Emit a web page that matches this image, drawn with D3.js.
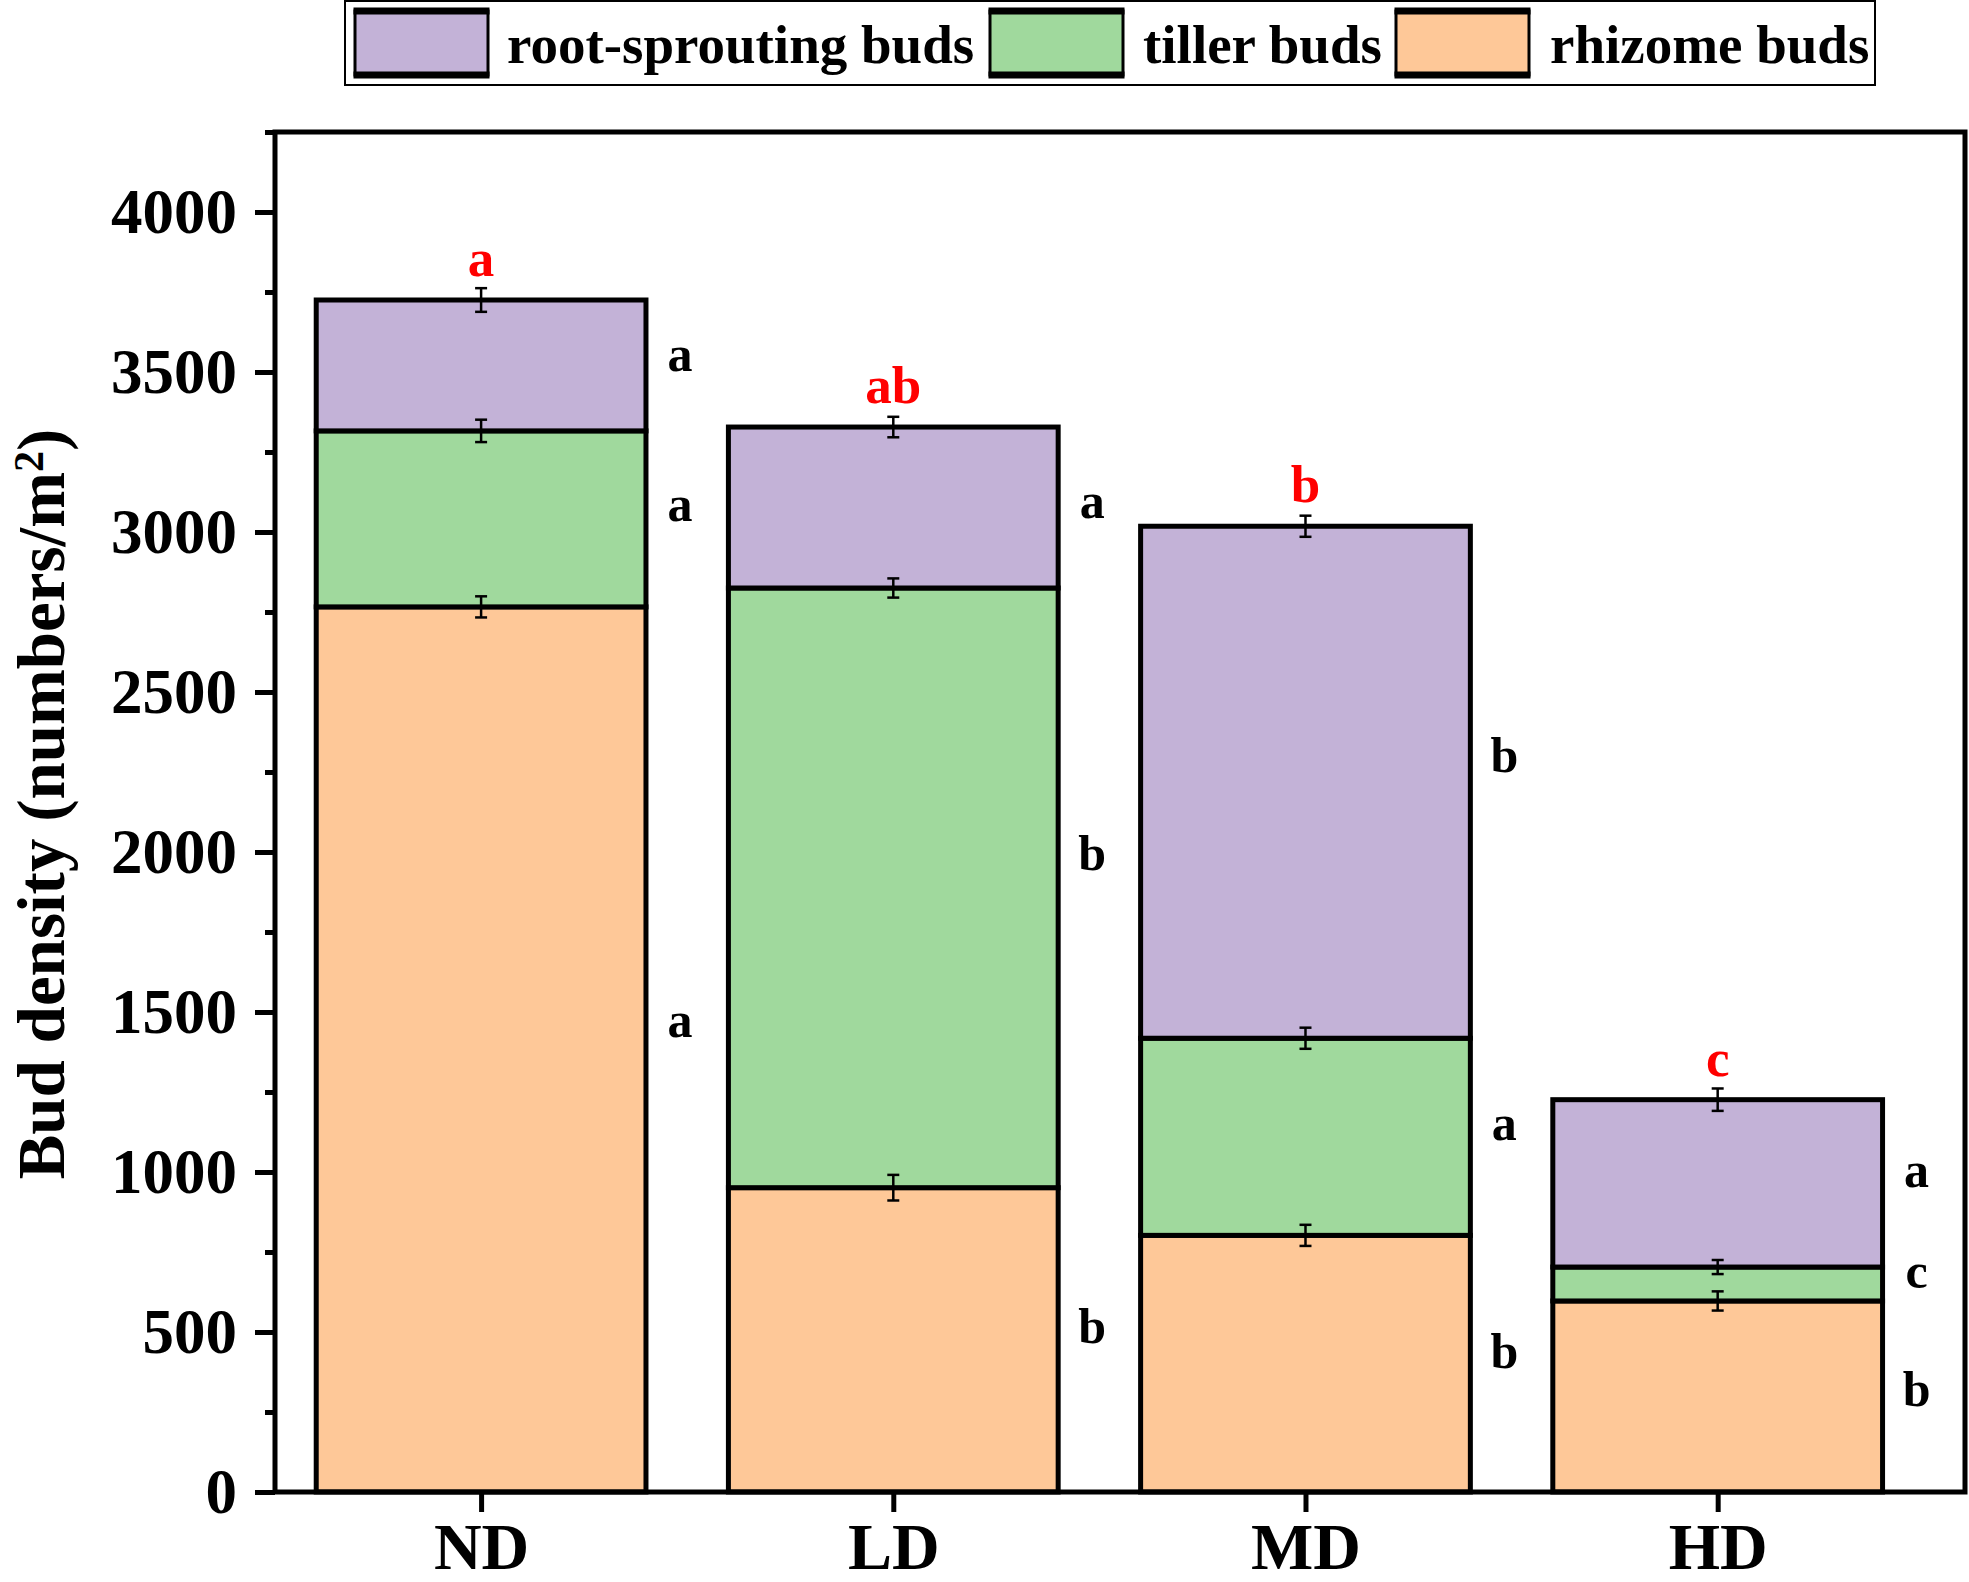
<!DOCTYPE html>
<html>
<head>
<meta charset="utf-8">
<script src="https://cdn.jsdelivr.net/npm/d3@7/dist/d3.min.js"></script>
<style>
  html, body { margin: 0; padding: 0; background: #fff; }
  svg { display: block; }
  text { font-family: "Liberation Serif", "Times New Roman", serif; font-weight: bold; }
</style>
</head>
<body>
<svg id="chart" width="1969" height="1582"></svg>
<script>
// ---------------- data ----------------
const categories = ["ND", "LD", "MD", "HD"];
const seriesNames = ["root-sprouting buds", "tiller buds", "rhizome buds"];
const rhizome = [2766, 951, 802, 597];
const tiller = [550, 1874, 616, 106];
const root = [409, 503, 1600, 523];
const rhizomeSE = [33, 40, 33, 30];
const tillerSE = [35, 30, 33, 22];
const rootSE = [37, 32, 33, 35];
const rhizomeLetters = ["a", "b", "b", "b"];
const tillerLetters = ["a", "b", "a", "c"];
const rootLetters = ["a", "a", "b", "a"];
const totalLetters = ["a", "ab", "b", "c"];
// value at which each significance letter is placed
const rhizomeLetterAt = [1458, 503, 424, 306];
const tillerLetterAt = [3073, 1980, 1139, 676];
const rootLetterAt = [3540, 3081, 2287, 990];
const yTicks = [0, 500, 1000, 1500, 2000, 2500, 3000, 3500, 4000];
const yMinorTicks = [250, 750, 1250, 1750, 2250, 2750, 3250, 3750, 4250];

// ---------------- layout ----------------
const colors = { root: "#C3B2D7", tiller: "#A0D99D", rhizome: "#FEC898" };
const L = 275, R = 1965, T = 132, B = 1492;
const svg = d3.select("#chart");

const y = d3.scaleLinear().domain([0, 4250]).range([B, T]);
const x = d3.scaleLinear().domain([0.5, 4.6]).range([L, R]);
const barW = x(1.8) - x(1.0);

// build stacked rows
const rows = categories.map((c, i) => ({
  cat: c, i: i,
  rhizome: rhizome[i], tiller: tiller[i], root: root[i]
}));
const stackGen = d3.stack().keys(["rhizome", "tiller", "root"]);
const stacked = stackGen(rows);
const seMap = { rhizome: rhizomeSE, tiller: tillerSE, root: rootSE };
const letterMap = { rhizome: rhizomeLetters, tiller: tillerLetters, root: rootLetters };
const letterAtMap = { rhizome: rhizomeLetterAt, tiller: tillerLetterAt, root: rootLetterAt };

// bars
stacked.forEach(layer => {
  svg.append("g").selectAll("rect").data(layer).join("rect")
    .attr("x", (d, i) => x(i + 1) - barW / 2)
    .attr("width", barW)
    .attr("y", d => y(d[1]))
    .attr("height", d => y(d[0]) - y(d[1]))
    .attr("fill", colors[layer.key])
    .attr("stroke", "#000")
    .attr("stroke-width", 5)
    .attr("stroke-linejoin", "miter");
});

// error bars
stacked.forEach(layer => {
  const g = svg.append("g").attr("stroke", "#000").attr("stroke-width", 2.5);
  layer.forEach((d, i) => {
    const cx = x(i + 1), se = seMap[layer.key][i];
    const y1 = y(d[1] + se), y2 = y(d[1] - se);
    g.append("line").attr("x1", cx).attr("x2", cx).attr("y1", y1).attr("y2", y2);
    g.append("line").attr("x1", cx - 6).attr("x2", cx + 6).attr("y1", y1).attr("y2", y1);
    g.append("line").attr("x1", cx - 6).attr("x2", cx + 6).attr("y1", y2).attr("y2", y2);
  });
});

// segment letters
stacked.forEach(layer => {
  svg.append("g").selectAll("text").data(layer).join("text")
    .attr("x", (d, i) => x(i + 1) + barW / 2 + 34)
    .attr("y", (d, i) => y(letterAtMap[layer.key][i]) + 12)
    .attr("text-anchor", "middle")
    .attr("font-size", 50)
    .attr("fill", "#000")
    .text((d, i) => letterMap[layer.key][i]);
});

// total letters (red)
const topLayer = stacked[stacked.length - 1];
svg.append("g").selectAll("text").data(topLayer).join("text")
  .attr("x", (d, i) => x(i + 1))
  .attr("y", d => y(d[1]) - 24)
  .attr("text-anchor", "middle")
  .attr("font-size", 53)
  .attr("fill", "#FF0000")
  .text((d, i) => totalLetters[i]);

// axes
const yAxis = d3.axisLeft(y).tickValues(yTicks).tickSize(20).tickPadding(18).tickFormat(d3.format("d"));
const yg = svg.append("g").attr("transform", `translate(${L},0)`).call(yAxis);
yg.select(".domain").remove();
yg.selectAll(".tick line").attr("stroke", "#000").attr("stroke-width", 5);
yg.selectAll(".tick text").attr("font-size", 63).attr("fill", "#000")
  .attr("font-family", "'Liberation Serif', serif").attr("font-weight", "bold");

const yMinor = d3.axisLeft(y).tickValues(yMinorTicks).tickSize(10).tickFormat("");
const ymg = svg.append("g").attr("transform", `translate(${L},0)`).call(yMinor);
ymg.select(".domain").remove();
ymg.selectAll(".tick line").attr("stroke", "#000").attr("stroke-width", 5);

const xAxis = d3.axisBottom(x).tickValues([1, 2, 3, 4]).tickSize(20).tickPadding(10)
  .tickFormat(d => categories[d - 1]);
const xg = svg.append("g").attr("transform", `translate(0,${B})`).call(xAxis);
xg.select(".domain").remove();
xg.selectAll(".tick line").attr("stroke", "#000").attr("stroke-width", 5);
xg.selectAll(".tick text").attr("font-size", 66).attr("fill", "#000")
  .attr("font-family", "'Liberation Serif', serif").attr("font-weight", "bold");

// frame
svg.append("rect").attr("x", L).attr("y", T).attr("width", R - L).attr("height", B - T)
  .attr("fill", "none").attr("stroke", "#000").attr("stroke-width", 5);

// y title
const title = svg.append("text")
  .attr("transform", `translate(64,804) rotate(-90)`)
  .attr("text-anchor", "middle")
  .attr("font-size", 67)
  .attr("fill", "#000");
title.append("tspan").text("Bud density (numbers/m");
title.append("tspan").attr("dy", -21).attr("font-size", 42).text("2");
title.append("tspan").attr("dy", 21).text(")");

// legend
const lg = svg.append("g");
lg.append("rect").attr("x", 345).attr("y", 1).attr("width", 1530).attr("height", 84)
  .attr("fill", "#fff").attr("stroke", "#000").attr("stroke-width", 2);
const legendItems = [
  { name: seriesNames[0], key: "root", sx: 355, tx: 507 },
  { name: seriesNames[1], key: "tiller", sx: 990, tx: 1143 },
  { name: seriesNames[2], key: "rhizome", sx: 1396, tx: 1550 }
];
legendItems.forEach(it => {
  lg.append("rect").attr("x", it.sx).attr("y", 11).attr("width", 133).attr("height", 64)
    .attr("fill", colors[it.key]).attr("stroke", "#000").attr("stroke-width", 3);
  lg.append("line").attr("x1", it.sx - 1.5).attr("x2", it.sx + 134.5).attr("y1", 11).attr("y2", 11)
    .attr("stroke", "#000").attr("stroke-width", 7);
  lg.append("line").attr("x1", it.sx - 1.5).attr("x2", it.sx + 134.5).attr("y1", 75).attr("y2", 75)
    .attr("stroke", "#000").attr("stroke-width", 7);
  lg.append("text").attr("x", it.tx).attr("y", 63).attr("font-size", 55).attr("fill", "#000").text(it.name);
});
</script>
</body>
</html>
